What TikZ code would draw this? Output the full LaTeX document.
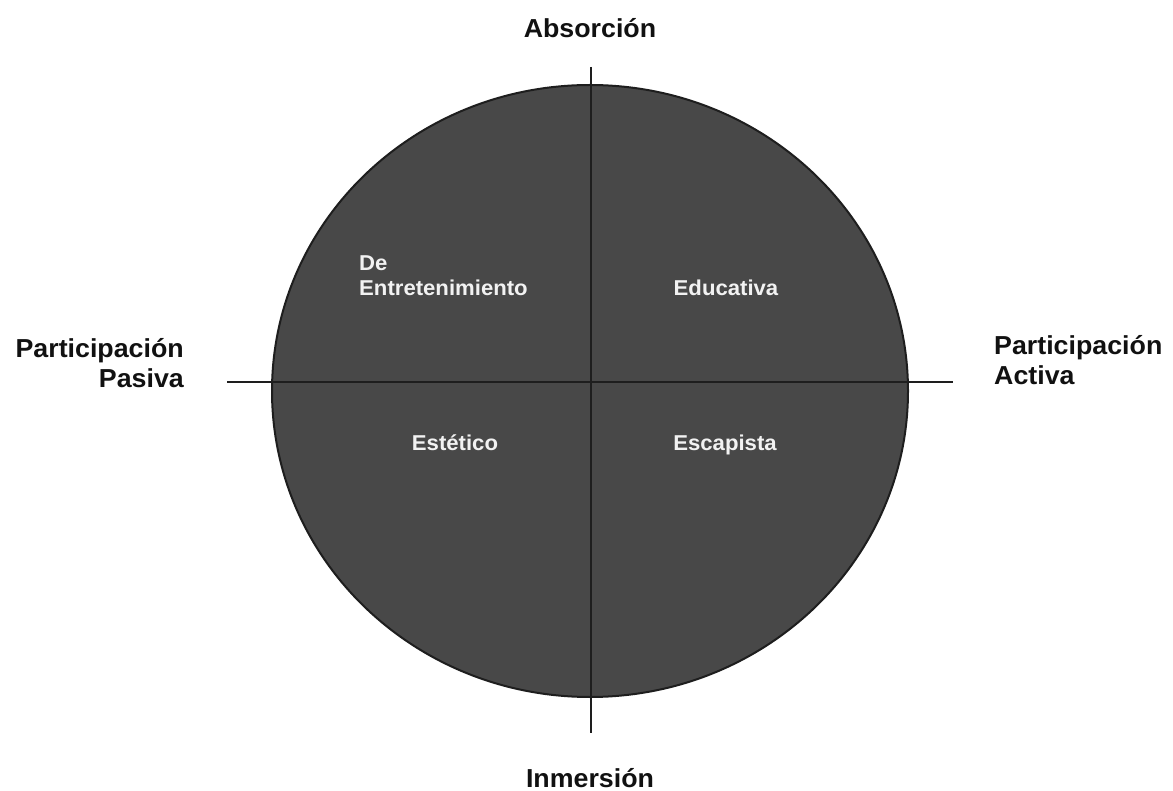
\documentclass[tikz,border=0pt]{standalone}
\usepackage{fontspec}
\setmainfont{Liberation Sans}
\definecolor{discfill}{HTML}{484848}
\definecolor{discline}{HTML}{1E1E1E}
\definecolor{innertext}{HTML}{F2F2F2}
\definecolor{outertext}{HTML}{111111}
\begin{document}
\begin{tikzpicture}[x=1pt,y=-1pt,
  outerlbl/.style={font=\fontsize{26}{30}\selectfont\bfseries, text=outertext, inner sep=0pt, xscale=1.03},
  innerlbl/.style={font=\fontsize{21.5}{25}\selectfont\bfseries, text=innertext, inner sep=0pt, xscale=1.03},
  axis/.style={draw=discline, line width=2pt}]
\useasboundingbox (0,0) rectangle (1173,791);
\fill[white] (0,0) rectangle (1173,791);
\filldraw[fill=discfill, draw=discline, line width=2pt] (590,391) ellipse [x radius=318, y radius=306];
\coordinate (top) at (591,67);
\coordinate (bot) at (591,733);
\coordinate (lft) at (227,382);
\coordinate (rgt) at (953,382);
\draw[axis] (top) -- (bot);
\draw[axis] (lft) -- (rgt);
\node[outerlbl] (abs) at (590,28) {Absorción};
\node[outerlbl, anchor=base] (inm) at (590,787) {Inmersión};
\node[outerlbl, align=right, anchor=east] (pas) at (184,363) {Participación\\Pasiva};
\node[outerlbl, align=left, anchor=west] (act) at (994,360) {Participación\\Activa};
\node[innerlbl, align=left, anchor=west] (ent) at (359,276) {De\\Entretenimiento};
\node[innerlbl, anchor=base] (edu) at (726,296) {Educativa};
\node[innerlbl, anchor=base] (est) at (455,450) {Estético};
\node[innerlbl, anchor=base] (esc) at (725,450) {Escapista};
\end{tikzpicture}
\end{document}
